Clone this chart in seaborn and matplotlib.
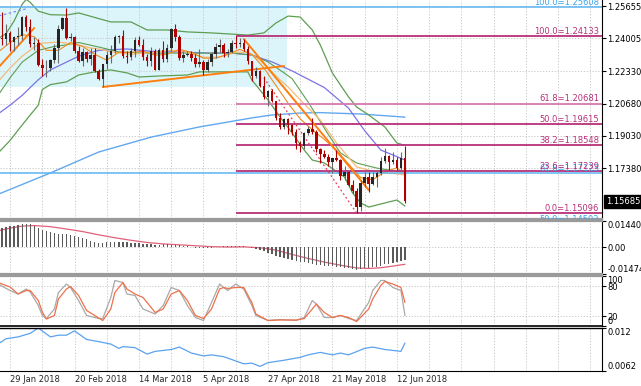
import numpy as np
import matplotlib
matplotlib.use('Agg')
import matplotlib.pyplot as plt
import matplotlib.transforms as mtransforms
import seaborn as sns

sns.set_style('white')
plt.rcParams['font.family'] = 'DejaVu Sans'

# ---------------------------------------------------------------
# EURUSD daily bars, 24 Jan 2018 (-3) ... 14 Jun 2018 (98)
# bar index 0 = 29 Jan 2018
# ---------------------------------------------------------------
bar_idx = list(range(-3, 99))
opens = [1.2300, 1.2405, 1.2397, 1.2427, 1.2383, 1.2410, 1.2413, 1.2510, 1.2461, 1.2370,
         1.2379, 1.2267, 1.2248, 1.2250, 1.2290, 1.2354, 1.2450, 1.2506, 1.2405, 1.2408,
         1.2337, 1.2285, 1.2330, 1.2295, 1.2318, 1.2232, 1.2193, 1.2268, 1.2315, 1.2336,
         1.2407, 1.2411, 1.2312, 1.2307, 1.2336, 1.2392, 1.2369, 1.2304, 1.2288, 1.2336,
         1.2240, 1.2340, 1.2297, 1.2352, 1.2450, 1.2408, 1.2302, 1.2318, 1.2323, 1.2302,
         1.2268, 1.2278, 1.2238, 1.2282, 1.2320, 1.2355, 1.2369, 1.2327, 1.2330, 1.2380,
         1.2373, 1.2375, 1.2346, 1.2288, 1.2210, 1.2232, 1.2160, 1.2102, 1.2130, 1.2080,
         1.1993, 1.1951, 1.1988, 1.1960, 1.1922, 1.1865, 1.1850, 1.1917, 1.1940, 1.1925,
         1.1837, 1.1810, 1.1795, 1.1771, 1.1790, 1.1780, 1.1697, 1.1720, 1.1655, 1.1623,
         1.1538, 1.1665, 1.1693, 1.1660, 1.1694, 1.1716, 1.1776, 1.1800, 1.1768, 1.1780,
         1.1740, 1.1792]
highs = [1.2415, 1.2537, 1.2472, 1.2440, 1.2413, 1.2460, 1.2515, 1.2520, 1.2500, 1.2410,
         1.2400, 1.2297, 1.2289, 1.2296, 1.2370, 1.2470, 1.2510, 1.2555, 1.2430, 1.2415,
         1.2361, 1.2350, 1.2337, 1.2354, 1.2353, 1.2245, 1.2272, 1.2336, 1.2365, 1.2419,
         1.2420, 1.2446, 1.2335, 1.2353, 1.2410, 1.2413, 1.2396, 1.2320, 1.2355, 1.2345,
         1.2350, 1.2388, 1.2372, 1.2456, 1.2476, 1.2416, 1.2337, 1.2336, 1.2338, 1.2323,
         1.2345, 1.2289, 1.2295, 1.2331, 1.2380, 1.2396, 1.2378, 1.2347, 1.2395, 1.2414,
         1.2403, 1.2396, 1.2360, 1.2288, 1.2253, 1.2240, 1.2211, 1.2138, 1.2145, 1.2083,
         1.2019, 1.1996, 1.1995, 1.1965, 1.1940, 1.1876, 1.1925, 1.1955, 1.1996, 1.1935,
         1.1843, 1.1830, 1.1810, 1.1791, 1.1832, 1.1783, 1.1749, 1.1726, 1.1680, 1.1636,
         1.1676, 1.1720, 1.1717, 1.1718, 1.1730, 1.1796, 1.1840, 1.1805, 1.1820, 1.1795,
         1.1820, 1.1852]
lows = [1.2290, 1.2365, 1.2365, 1.2335, 1.2336, 1.2367, 1.2394, 1.2440, 1.2359, 1.2340,
        1.2260, 1.2209, 1.2206, 1.2236, 1.2274, 1.2275, 1.2444, 1.2398, 1.2390, 1.2325,
        1.2279, 1.2260, 1.2278, 1.2264, 1.2227, 1.2188, 1.2155, 1.2245, 1.2273, 1.2325,
        1.2375, 1.2303, 1.2273, 1.2290, 1.2308, 1.2360, 1.2289, 1.2259, 1.2260, 1.2238,
        1.2238, 1.2282, 1.2280, 1.2338, 1.2386, 1.2293, 1.2283, 1.2310, 1.2286, 1.2255,
        1.2253, 1.2215, 1.2228, 1.2261, 1.2300, 1.2330, 1.2305, 1.2308, 1.2325, 1.2352,
        1.2356, 1.2337, 1.2270, 1.2183, 1.2198, 1.2155, 1.2094, 1.2054, 1.2074, 1.1985,
        1.1937, 1.1938, 1.1911, 1.1910, 1.1838, 1.1823, 1.1838, 1.1907, 1.1912, 1.1822,
        1.1763, 1.1790, 1.1750, 1.1716, 1.1774, 1.1676, 1.1677, 1.1645, 1.1610, 1.1510,
        1.1520, 1.1641, 1.1617, 1.1654, 1.1642, 1.1706, 1.1763, 1.1727, 1.1760, 1.1731,
        1.1722, 1.1563]
closes = [1.2405, 1.2397, 1.2427, 1.2383, 1.2410, 1.2413, 1.2510, 1.2461, 1.2370, 1.2379,
          1.2267, 1.2248, 1.2250, 1.2290, 1.2354, 1.2450, 1.2506, 1.2405, 1.2408, 1.2337,
          1.2285, 1.2330, 1.2295, 1.2318, 1.2232, 1.2193, 1.2268, 1.2315, 1.2336, 1.2407,
          1.2411, 1.2312, 1.2307, 1.2336, 1.2392, 1.2369, 1.2304, 1.2288, 1.2336, 1.2240,
          1.2340, 1.2297, 1.2352, 1.2450, 1.2408, 1.2302, 1.2318, 1.2323, 1.2302, 1.2268,
          1.2278, 1.2238, 1.2282, 1.2320, 1.2355, 1.2369, 1.2327, 1.2330, 1.2380, 1.2373,
          1.2375, 1.2346, 1.2288, 1.2210, 1.2232, 1.2160, 1.2102, 1.2130, 1.2080, 1.1993,
          1.1951, 1.1988, 1.1960, 1.1922, 1.1865, 1.1850, 1.1917, 1.1940, 1.1925, 1.1837,
          1.1810, 1.1795, 1.1771, 1.1790, 1.1780, 1.1697, 1.1720, 1.1655, 1.1623, 1.1538,
          1.1665, 1.1693, 1.1660, 1.1694, 1.1716, 1.1776, 1.1800, 1.1768, 1.1780, 1.1740,
          1.1792, 1.15685]

date_ticks = [0, 16, 32, 48, 64, 80, 96]
date_labels = ['29 Jan 2018', '20 Feb 2018', '14 Mar 2018', '5 Apr 2018',
               '27 Apr 2018', '21 May 2018', '12 Jun 2018']
price_ticks = [1.25655, 1.24005, 1.22330, 1.20680, 1.19030, 1.17380]
last_price = 1.15685

# fibonacci objects
fib_start = 56
fib_levels = [1.24133, 1.20681, 1.19615, 1.18548, 1.17239, 1.15096]
fib_names = ['100.0', '61.8', '50.0', '38.2', '23.6', '0.0']
fib_blue_levels = [1.25608, 1.17123, 1.14502]
fib_blue_names = ['100.0', '61.8', '50.0']

# drawn objects
box_x = [-3, 68.7]
box_y = [1.2153, 1.2561]
trend1_x, trend1_y = [-3, 6], [1.2250, 1.2454]
trend2_x, trend2_y = [23, 68], [1.2153, 1.2260]
trend3_x, trend3_y = [58, 89], [1.2398, 1.1627]
reddot_x, reddot_y = [63, 86], [1.2199, 1.1510]
bluedot_x, bluedot_y = [-3, 4], [1.2515, 1.2552]

# bollinger bands
bb_up_x = [-3, -1, 1, 3, 4, 5, 7, 10, 14, 17, 25, 30, 34, 39, 44, 50, 59, 63, 66, 69,
           72, 75, 77, 80, 84, 86, 89, 93, 96, 98]
bb_up = [1.2400, 1.2425, 1.2490, 1.2575, 1.2600, 1.2585, 1.2540, 1.2522, 1.2520, 1.2531,
         1.2485, 1.2485, 1.2444, 1.2444, 1.2434, 1.2429, 1.2418, 1.2429, 1.2480, 1.2515,
         1.2510, 1.2444, 1.2367, 1.2224, 1.2102, 1.2051, 1.2010, 1.1949, 1.1867, 1.1855]
bb_mid_x = [-3, 0, 3, 7, 11, 14, 17, 22, 27, 33, 44, 50, 55, 60, 64, 68, 70, 74, 79, 82,
            86, 91, 97, 98]
bb_mid = [1.2110, 1.2200, 1.2280, 1.2340, 1.2360, 1.2368, 1.2380, 1.2357, 1.2332, 1.2326,
          1.2326, 1.2326, 1.2326, 1.2316, 1.2281, 1.2225, 1.2195, 1.2075, 1.1910, 1.1816,
          1.1765, 1.1739, 1.1719, 1.1717]
bb_low_x = [-3, 0, 2, 5, 7, 8, 10, 14, 17, 21, 25, 29, 32, 38, 44, 47, 55, 59, 60, 64,
            67, 70, 73, 75, 78, 83, 85, 87, 89, 94, 96, 98]
bb_low = [1.1815, 1.1880, 1.1933, 1.2010, 1.2060, 1.2140, 1.2165, 1.2179, 1.2214, 1.2230,
          1.2240, 1.2225, 1.2204, 1.2210, 1.2214, 1.2230, 1.2230, 1.2230, 1.2189, 1.2087,
          1.2000, 1.1918, 1.1831, 1.1780, 1.1765, 1.1693, 1.1612, 1.1561, 1.1540, 1.1566,
          1.1576, 1.1545]

# moving averages
ma_fast_x = [-3, 0, 3, 6, 9, 12, 15, 18, 21, 24, 27, 30, 33, 36, 39, 42, 45, 48, 51, 54,
             57, 60, 63, 66, 69, 72, 75, 78, 81, 84, 87, 90, 93, 96, 98]
ma_fast = [1.2330, 1.2380, 1.2420, 1.2410, 1.2340, 1.2340, 1.2380, 1.2360, 1.2320, 1.2290,
           1.2330, 1.2330, 1.2335, 1.2315, 1.2320, 1.2345, 1.2330, 1.2300, 1.2300, 1.2320,
           1.2345, 1.2320, 1.2250, 1.2160, 1.2070, 1.1990, 1.1935, 1.1885, 1.1830, 1.1760,
           1.1690, 1.1680, 1.1720, 1.1740, 1.1710]
ma_slow_x = [-3, 0, 3, 6, 8, 12, 14, 17, 20, 22, 25, 30, 36, 40, 44, 48, 52, 56, 59, 62,
             67, 69, 72, 77, 81, 86, 89, 92, 95, 98]
ma_slow = [1.2180, 1.2250, 1.2310, 1.2357, 1.2377, 1.2382, 1.2377, 1.2367, 1.2352, 1.2347,
           1.2332, 1.2320, 1.2330, 1.2340, 1.2330, 1.2305, 1.2305, 1.2330, 1.2330, 1.2291,
           1.2189, 1.2153, 1.2087, 1.1984, 1.1867, 1.1745, 1.1729, 1.1714, 1.1712, 1.1704]
ma_mid_x = [-3, 0, 3, 7, 10, 14, 17, 22, 29, 35, 42, 49, 55, 60, 65, 70, 78, 84, 88, 92,
            95, 98]
ma_mid = [1.2015, 1.2060, 1.2110, 1.2190, 1.2240, 1.2280, 1.2310, 1.2340, 1.2347, 1.2335,
          1.2332, 1.2326, 1.2326, 1.2316, 1.2281, 1.2235, 1.2150, 1.2045, 1.1930, 1.1831,
          1.1806, 1.1780]
ma_long_x = [-3, 10, 22, 35, 47, 60, 65, 72, 77, 87, 98]
ma_long = [1.1605, 1.1714, 1.1821, 1.1897, 1.1949, 1.1995, 1.2010, 1.2020, 1.2022, 1.2015,
           1.1999]

# MACD histogram (one value per bar) and signal line
macd_hist = [0.0088, 0.0104, 0.0110, 0.0115, 0.0118, 0.0122, 0.0126, 0.0127, 0.0125, 0.0118,
             0.0108, 0.0096, 0.0088, 0.0082, 0.0077, 0.0074, 0.0072, 0.0070, 0.0068, 0.0063,
             0.0058, 0.0052, 0.0045, 0.0036, 0.0030, 0.0024, 0.0025, 0.0026, 0.0027, 0.0029,
             0.0030, 0.0028, 0.0026, 0.0025, 0.0024, 0.0022, 0.0020, 0.0018, 0.0016, 0.0014,
             0.0014, 0.0015, 0.0016, 0.0014, 0.0012, 0.0010, 0.0008, 0.0005, 0.0002, -0.0002,
             -0.0005, -0.0006, -0.0004, -0.0002, 0.0001, 0.0003, 0.0005, 0.0006, 0.0007, 0.0008,
             0.0007, 0.0005, 0.0003, -0.0002, -0.0008, -0.0014, -0.0021, -0.0030, -0.0038, -0.0046,
             -0.0053, -0.0060, -0.0065, -0.0070, -0.0074, -0.0079, -0.0083, -0.0088, -0.0092, -0.0096,
             -0.0099, -0.0102, -0.0104, -0.0106, -0.0109, -0.0111, -0.0113, -0.0116, -0.0120, -0.0125,
             -0.0122, -0.0117, -0.0113, -0.0110, -0.0107, -0.0101, -0.0095, -0.0090, -0.0085, -0.0080,
             -0.0074, -0.0070]
signal_x = [-3, 0, 3, 6, 10, 14, 18, 22, 26, 30, 34, 38, 42, 46, 50, 54, 58, 62, 66, 70,
            74, 78, 82, 86, 89, 92, 95, 98]
signal = [0.0090, 0.0105, 0.0116, 0.0119, 0.0113, 0.0100, 0.0086, 0.0068, 0.0052, 0.0038,
          0.0026, 0.0018, 0.0013, 0.0008, 0.0003, 0.0001, 0.0002, -0.0003, -0.0016, -0.0040,
          -0.0062, -0.0082, -0.0099, -0.0114, -0.0117, -0.0113, -0.0104, -0.0094]

# stochastic
sto_x = [-3, 0, 2, 4, 5, 7, 8, 9, 11, 12, 14, 15, 17, 19, 22, 23, 25, 26, 28, 29,
         31, 33, 36, 38, 40, 42, 44, 46, 48, 50, 52, 53, 54, 56, 58, 60, 61, 64, 67, 71,
         73, 75, 76, 78, 80, 82, 84, 86, 89, 90, 92, 93, 95, 97, 98]
sto_k = [84, 71, 64, 74, 68, 41, 21, 15, 34, 67, 84, 77, 51, 21, 15, 15, 57, 91, 87, 64,
         61, 34, 24, 41, 77, 71, 41, 17, 11, 47, 84, 77, 71, 84, 74, 41, 21, 11, 13, 11,
         17, 51, 44, 17, 17, 21, 15, 11, 47, 71, 91, 91, 77, 71, 21]
sto_d = [87, 78, 64, 71, 71, 51, 28, 14, 21, 54, 74, 79, 61, 31, 16, 11, 34, 67, 87, 74,
         64, 57, 27, 34, 64, 71, 51, 21, 15, 34, 74, 77, 75, 77, 77, 47, 24, 11, 12, 12,
         15, 34, 44, 27, 17, 21, 17, 9, 34, 54, 81, 89, 84, 77, 47]

# ATR
atr_x = [-3, -1, 2, 5, 7, 10, 12, 14, 16, 19, 22, 25, 27, 28, 31, 34, 36, 40, 42, 45,
         48, 50, 53, 58, 60, 62, 64, 68, 72, 74, 77, 80, 82, 84, 88, 90, 93, 97, 98]
atr = [0.00983, 0.01055, 0.0108, 0.01128, 0.0120, 0.0108, 0.01103, 0.01103, 0.01161, 0.01045,
       0.01016, 0.00983, 0.00925, 0.00949, 0.00935, 0.00848, 0.00885, 0.0091, 0.00943, 0.00862,
       0.00823, 0.00838, 0.00813, 0.00717, 0.00726, 0.00682, 0.00732, 0.00765, 0.00804, 0.00838,
       0.00871, 0.00838, 0.00862, 0.00838, 0.00925, 0.00943, 0.0091, 0.00885, 0.00997]

# ---------------------------------------------------------------
W, H = 641, 386
XMIN, XMAX = -2.5, 146.9
FS = 6

fig = plt.figure(figsize=(W / 100, H / 100), dpi=100)
fig.patch.set_facecolor('white')


def panel(top, bottom):
    return fig.add_axes([0, 1 - bottom / H, 602 / W, (bottom - top) / H])


ax = panel(0, 219)
ax_macd = panel(221, 274)
ax_sto = panel(276, 326)
ax_atr = panel(328, 371)


def style(a, yt, ylab, lim):
    a.set_xlim(XMIN, XMAX)
    a.set_ylim(*lim)
    a.yaxis.tick_right()
    a.set_yticks(yt)
    a.set_yticklabels(ylab)
    a.set_xticks(range(0, 147, 8))
    a.set_xticklabels([])
    a.tick_params(axis='y', labelsize=FS, length=3, pad=1, colors='black', width=0.8)
    a.tick_params(axis='x', length=0)
    a.grid(True, color='#c2c2c2', linestyle=(0, (1.5, 2)), linewidth=0.6)
    a.set_axisbelow('line')
    a.spines['left'].set_visible(False)
    a.spines['right'].set_color('black')
    a.spines['right'].set_linewidth(0.8)
    a.set_xlabel('')
    a.set_ylabel('')


# ---------------- main price panel ----------------
style(ax, price_ticks, [f'{p:.5f}' for p in price_ticks], (1.1479, 1.2597))
ax.spines['top'].set_visible(False)
ax.spines['bottom'].set_color('#9a9a9a')
ax.spines['bottom'].set_linewidth(1.6)

ax.fill_between(box_x, box_y[0], box_y[1], color='#dcf5fa', linewidth=0, zorder=0.5)

sns.lineplot(x=ma_long_x, y=ma_long, ax=ax, color='#62a8f0', linewidth=1.0, estimator=None)
sns.lineplot(x=ma_mid_x, y=ma_mid, ax=ax, color='#7a72e6', linewidth=0.9, estimator=None)
sns.lineplot(x=bb_up_x, y=bb_up, ax=ax, color='#5e9e52', linewidth=0.9, estimator=None)
sns.lineplot(x=bb_mid_x, y=bb_mid, ax=ax, color='#5e9e52', linewidth=0.8, estimator=None)
sns.lineplot(x=bb_low_x, y=bb_low, ax=ax, color='#5e9e52', linewidth=0.9, estimator=None)
sns.lineplot(x=ma_slow_x, y=ma_slow, ax=ax, color='#f5bb78', linewidth=0.9, estimator=None)
sns.lineplot(x=ma_fast_x, y=ma_fast, ax=ax, color='#f08a20', linewidth=0.8, estimator=None)

for tx, ty in [(trend1_x, trend1_y), (trend2_x, trend2_y), (trend3_x, trend3_y)]:
    ax.plot(tx, ty, color='#ff7f0e', linewidth=1.4, zorder=3)
ax.plot(reddot_x, reddot_y, color='#e8405a', linewidth=0.9, linestyle=(0, (1.5, 2)), zorder=3)
ax.plot(bluedot_x, bluedot_y, color='#7a8cf0', linewidth=0.9, linestyle=(0, (2, 2)), zorder=3)

# fibonacci levels
for lvl, name in zip(fib_blue_levels, fib_blue_names):
    ax.hlines(lvl, XMIN, XMAX, color='#5ab4f0', linewidth=1.1, zorder=2.5)
    ax.text(146.2, lvl + 0.0002, f'{name}={lvl:.5f}', ha='right', va='bottom',
            fontsize=FS, color='#3aa6ee', clip_on=True, zorder=6)
for lvl, name in zip(fib_levels, fib_names):
    col = '#d77ab0' if name == '61.8' else '#b8307a'
    ax.hlines(lvl, fib_start, XMAX, color=col, linewidth=1.3, zorder=2.6)
    ax.text(146.2, lvl + 0.0002, f'{name}={lvl:.5f}', ha='right', va='bottom',
            fontsize=FS, color='#b8307a', clip_on=True, zorder=6)

# candles
o = np.array(opens)
c = np.array(closes)
up = c >= o
body_col = np.where(up, '#262626', '#b00000')
wick_col = np.where(up, '#6a6a6a', '#b00000')
ax.vlines(bar_idx, lows, highs, colors=wick_col, linewidth=0.8, zorder=4)
ax.bar(bar_idx, np.maximum(np.abs(c - o), 0.00015), bottom=np.minimum(o, c), width=0.62,
       color=body_col, linewidth=0, zorder=5)

# last price tag
trans = mtransforms.blended_transform_factory(ax.transAxes, ax.transData)
ax.text(1.006, last_price, f'{last_price:.5f}', transform=trans, ha='left', va='center',
        fontsize=FS, color='white', clip_on=False, zorder=10,
        bbox=dict(boxstyle='square,pad=0.25', facecolor='black', edgecolor='black'))

# ---------------- MACD ----------------
macd_lim = (-0.01474, 0.014407)
style(ax_macd, [macd_lim[0], 0.0, macd_lim[1]], ['-0.01474', '0.00', '0.014407'], macd_lim)
ax_macd.bar(bar_idx, macd_hist, width=0.32, color='#5a5a5a', linewidth=0, zorder=3)
sns.lineplot(x=signal_x, y=signal, ax=ax_macd, color='#e0607a', linewidth=0.9, estimator=None)
ax_macd.set_ylim(*macd_lim)

# ---------------- Stochastic ----------------
style(ax_sto, [0, 20, 80, 100], ['0', '20', '80', '100'], (0, 100))
sns.lineplot(x=sto_x, y=sto_k, ax=ax_sto, color='#a9a9a9', linewidth=0.9, estimator=None)
sns.lineplot(x=sto_x, y=sto_d, ax=ax_sto, color='#f0704a', linewidth=0.9, estimator=None)
ax_sto.set_ylim(0, 100)

# ---------------- ATR ----------------
atr_lim = (0.0062, 0.012)
style(ax_atr, [atr_lim[0], atr_lim[1]], ['0.0062', '0.012'], atr_lim)
sns.lineplot(x=atr_x, y=atr, ax=ax_atr, color='#5aa2f0', linewidth=0.9, estimator=None)
ax_atr.set_ylim(*atr_lim)

# separators between sub-windows
for a in (ax_macd, ax_sto):
    a.spines['top'].set_color('#9a9a9a')
    a.spines['top'].set_linewidth(1.6)
    a.spines['bottom'].set_color('#9a9a9a')
    a.spines['bottom'].set_linewidth(1.6)
ax_sto.spines['bottom'].set_color('black')
ax_sto.spines['bottom'].set_linewidth(1.2)
ax_atr.spines['top'].set_color('black')
ax_atr.spines['top'].set_linewidth(1.0)
ax_atr.spines['bottom'].set_color('black')
ax_atr.spines['bottom'].set_linewidth(0.8)

# edge labels sit inside their sub-window like the terminal does
for a in (ax_macd, ax_sto, ax_atr):
    labs = a.get_yticklabels()
    labs[0].set_va('bottom')
    labs[-1].set_va('top')

# date axis
xt = list(range(0, 147, 8))
ax_atr.set_xticks(xt)
ax_atr.set_xticklabels([date_labels[date_ticks.index(t)] if t in date_ticks else '' for t in xt],
                       ha='left')
ax_atr.tick_params(axis='x', labelsize=FS, length=0, pad=3, labelbottom=True)

fig.savefig('out.png', dpi=100, facecolor='white')
